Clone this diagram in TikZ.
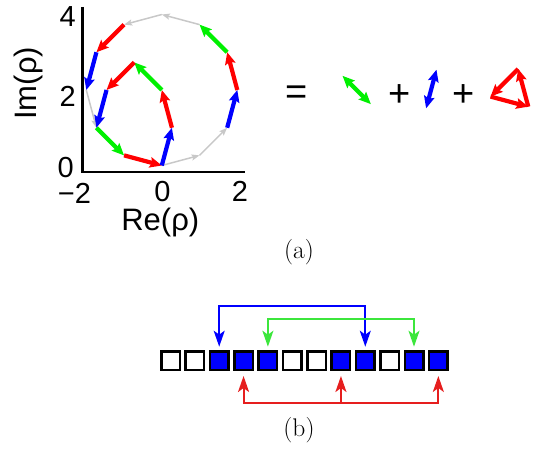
\documentclass[tikz,border=0pt]{standalone}
\usepackage{fontspec}
\newfontfamily\arialf{Liberation Sans}
\usetikzlibrary{arrows.meta,calc}
\definecolor{cblue}{RGB}{0,0,255}
\definecolor{cgreen}{RGB}{0,240,0}
\definecolor{cred}{RGB}{255,0,0}
\definecolor{cgray}{RGB}{200,200,200}
\definecolor{bgreen}{RGB}{60,230,60}
\definecolor{bred}{RGB}{230,30,30}
\begin{document}
\begin{tikzpicture}[x=1pt,y=1pt,
  vec/.style={line width=4.2pt, -{Stealth[length=12pt,width=10.5pt,inset=2pt]}},
  gvec/.style={line width=1.5pt, draw=cgray, -{Stealth[length=8pt,width=6pt,inset=1.5pt]}},
  dvec/.style={line width=4.2pt, {Stealth[length=12pt,width=10.5pt,inset=2pt]}-{Stealth[length=12pt,width=10.5pt,inset=2pt]}},
  ticklab/.style={font=\arialf\fontsize{29}{29}\selectfont, inner sep=0pt, text height=20pt, text depth=0pt},
  axlab/.style={font=\arialf\fontsize{31}{31}\selectfont, inner sep=0pt, text height=21pt, text depth=6pt},
  opsym/.style={font=\arialf\fontsize{38}{38}\selectfont, inner sep=0pt, anchor=base},
  sublab/.style={font=\fontsize{25.5}{25.5}\selectfont, inner sep=0pt, anchor=base},
  cell/.style={draw=black, line width=2.5pt, minimum size=18.5pt, inner sep=0pt},
  link/.style={line width=2pt, {Stealth[length=16pt,width=11pt,inset=4pt]}-{Stealth[length=16pt,width=11pt,inset=4pt]}},
  slink/.style={line width=2pt, -{Stealth[length=16pt,width=11pt,inset=4pt]}}
]
\useasboundingbox (0,0) rectangle (539,453);

% ---------- part (a): axes ----------
\coordinate (ytop) at (82.3,446);
\coordinate (orig) at (82.3,281);
\coordinate (xend) at (245,281);
\draw[line width=2.5pt] (ytop) -- (orig) -- (xend);

\node[ticklab, anchor=base east] (t4) at (76,426.3) {4};
\node[ticklab, anchor=base east] (t2) at (76,346) {2};
\node[ticklab, anchor=base east] (t0) at (74,275) {0};
\node[ticklab, anchor=base] (xm2) at (74.5,249.5) {−2};
\node[ticklab, anchor=base] (x0) at (162.5,251.5) {0};
\node[ticklab, anchor=base] (x2) at (240,251.5) {2};
\node[axlab, anchor=base] (re) at (160.3,222.5) {Re(ρ)};
\node[axlab, anchor=base, rotate=90] (im) at (36,369.7) {Im(ρ)};

% ---------- 12-gon ----------
\foreach \k in {0,...,11}
  \coordinate (V\k) at ($(161.8,363)+({-90+30*\k}:75.5)$);
\def\L{39.08}
\coordinate (P1) at ($(V0)+(75:\L)$);
\coordinate (P2) at ($(P1)+(105:\L)$);
\coordinate (P3) at ($(P2)+(135:\L)$);
\coordinate (P4) at ($(P3)+(225:\L)$);

\draw[gvec] (V0) -- (V1);
\draw[gvec] (V1) -- (V2);
\draw[gvec] (V5) -- (V6);
\draw[gvec] (V6) -- (V7);
\draw[gvec] (V9) -- (V10);

\draw[vec, draw=cblue] (V2) -- (V3);
\draw[vec, draw=cred] (V3) -- (V4);
\draw[vec, draw=cgreen] (V4) -- (V5);
\draw[vec, draw=cred] (V7) -- (V8);
\draw[vec, draw=cblue] (V8) -- (V9);
\draw[vec, draw=cgreen] (V10) -- (V11);
\draw[vec, draw=cred] (V11) -- (V0);

\draw[vec, draw=cblue] (V0) -- (P1);
\draw[vec, draw=cred] (P1) -- (P2);
\draw[vec, draw=cgreen] (P2) -- (P3);
\draw[vec, draw=cred] (P3) -- (P4);
\draw[vec, draw=cblue] (P4) -- (V10);

% ---------- decomposition ----------
\node[opsym] (eq) at (297,348.8) {=};
\node[opsym] (plus1) at (400,346.5) {+};
\node[opsym] (plus2) at (464,346.5) {+};

\coordinate (gc) at (356.7,363);
\coordinate (gA) at ($(gc)+(135:20)$);
\coordinate (gB) at ($(gc)+(315:20)$);
\draw[dvec, draw=cgreen] (gA) -- (gB);

\coordinate (bc) at (431.3,364);
\coordinate (bA) at ($(bc)+(75:20)$);
\coordinate (bB) at ($(bc)+(255:20)$);
\draw[dvec, draw=cblue] (bB) -- (bA);

\coordinate (tBR) at (528.3,346.3);
\coordinate (tT) at ($(tBR)+(105:\L)$);
\coordinate (tL) at ($(tT)+(225:\L)$);
\draw[vec, draw=cred] (tBR) -- (tT);
\draw[vec, draw=cred] (tT) -- (tL);
\draw[vec, draw=cred] (tL) -- (tBR);

\node[sublab] (la) at (299,194) {(a)};

% ---------- part (b) ----------
\foreach \i/\f in {0/white,1/white,2/cblue,3/cblue,4/cblue,5/white,6/white,7/cblue,8/cblue,9/white,10/cblue,11/cblue}
  \node[cell, fill=\f] (s\i) at ({170.5+24.35*\i},92) {};

\coordinate (u2) at ($(s2.center)+(0,14.3)$);
\coordinate (u8) at ($(s8.center)+(0,14.3)$);
\coordinate (u4) at ($(s4.center)+(0,14.3)$);
\coordinate (u10) at ($(s10.center)+(0,14.3)$);
\draw[link, draw=cblue] (u2) -- ++(0,41) -| (u8);
\draw[link, draw=bgreen] (u4) -- ++(0,27.4) -| (u10);

\coordinate (d3) at ($(s3.center)+(0,-15)$);
\coordinate (d7) at ($(s7.center)+(0,-15)$);
\coordinate (d11) at ($(s11.center)+(0,-15)$);
\coordinate (rbar) at ($(s7.center)+(0,-41.7)$);
\draw[link, draw=bred] (d3) -- ++(0,-26.7) -| (d11);
\draw[slink, draw=bred] (rbar) -- (d7);

\node[sublab] (lb) at (299,16) {(b)};
\end{tikzpicture}
\end{document}
